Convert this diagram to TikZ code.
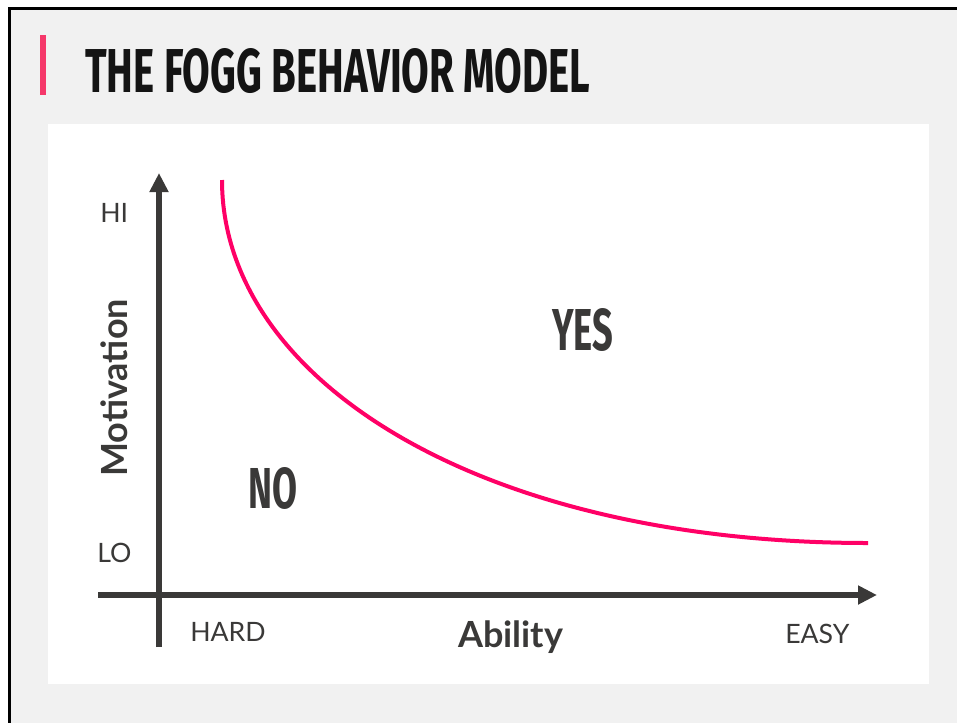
\documentclass[tikz,border=0pt]{standalone}
\usepackage{fontspec}
\setmainfont{Lato}
\newfontfamily\condfont{Fira Sans}
\usepackage{graphicx}
\usetikzlibrary{arrows.meta}

\definecolor{pagegray}{HTML}{F1F1F1}
\definecolor{axisgray}{HTML}{3A3938}
\definecolor{curvepink}{HTML}{FF0066}
\definecolor{barpink}{HTML}{F5386A}
\definecolor{titleblack}{HTML}{141414}

\begin{document}
\begin{tikzpicture}[
    x=0.75pt, y=-0.75pt,
    every node/.style={inner sep=0pt, anchor=base west, text=axisgray},
    tick/.style={font=\fontsize{20}{24}\selectfont},
    axislabel/.style={font=\fontsize{27}{32}\selectfont\bfseries},
    zone/.style={font=\condfont\bfseries},
    axis/.style={draw=axisgray, line width=4.5pt, -{Triangle[length=14.25pt, width=13.5pt]}},
    curve/.style={draw=curvepink, line width=3pt}
]
\useasboundingbox (0,0) rectangle (957,722);
\clip (0,0) rectangle (957,722);
% page and panel
\draw[fill=pagegray, line width=2.25pt] (9,8) rectangle (970,735);
\fill[white] (48,124) rectangle (929,684);
\fill[barpink] (40,35) rectangle (46,95);
\node[text=titleblack] (title) at (85,92) {\resizebox{378.75pt}{33pt}{\condfont\bfseries THE FOGG BEHAVIOR MODEL}};
% axes
\coordinate (ybot) at (159,647);
\coordinate (ytop) at (159,173);
\coordinate (xleft) at (98,595);
\coordinate (xright) at (877,595);
\draw[axis] (ybot) -- (ytop);
\draw[axis] (xleft) -- (xright);
% action line
\coordinate (hardend) at (222,180);
\coordinate (easyend) at (868,543);
\draw[curve] (hardend) .. controls (222,380) and (480,543) .. (easyend);
% labels
\node[tick] (hi) at (100,222) {HI};
\node[tick] (lo) at (97,562) {LO};
\node[tick] (hard) at (190,641) {HARD};
\node[tick] (easy) at (785,643) {EASY};
\node[axislabel] (ability) at (458,647) {Ability};
\node[axislabel, rotate=90] (motivation) at (127,477) {Motivation};
\node[zone] (yes) at (552,350) {\resizebox{45.75pt}{31.5pt}{YES}};
\node[zone] (no) at (248,508) {\resizebox{36.75pt}{30.75pt}{NO}};
\end{tikzpicture}
\end{document}
